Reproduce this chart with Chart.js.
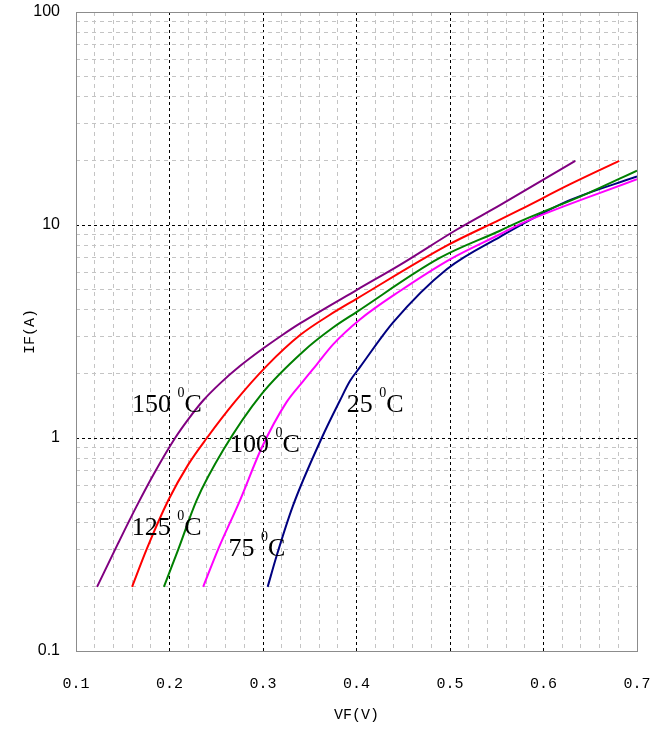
<!DOCTYPE html>
<html>
<head>
<meta charset="utf-8">
<title>IF vs VF</title>
<script src="https://cdn.jsdelivr.net/npm/chart.js@4.4.1/dist/chart.umd.min.js"></script>
<style>
  body { margin: 0; background: #fff; }
  #wrap { width: 651px; height: 729px; position: relative; }
</style>
</head>
<body>
<div id="wrap"><canvas id="chart"></canvas></div>
<script>
// forward voltage (V) and forward current (A)
const vf150 = [0.1225, 0.145, 0.165, 0.185, 0.206, 0.221, 0.236, 0.255, 0.275, 0.300, 0.320, 0.340, 0.400, 0.4465, 0.507, 0.5535, 0.634];
const if150 = [0.2, 0.32, 0.48, 0.70, 1.0, 1.24, 1.5, 1.82, 2.17, 2.63, 3.03, 3.46, 4.95, 6.5, 9.5, 12.4, 20];

const vf125 = [0.160, 0.1755, 0.1987, 0.220, 0.240, 0.270, 0.304, 0.340, 0.370, 0.400, 0.4965, 0.5535, 0.575, 0.628, 0.681];
const if125 = [0.2, 0.3, 0.51, 0.75, 1.0, 1.48, 2.18, 3.05, 3.75, 4.5, 8.0, 10.6, 11.8, 15.5, 20];

const vf100 = [0.194, 0.2094, 0.229, 0.2576, 0.298, 0.343, 0.375, 0.400, 0.489, 0.5535, 0.575, 0.646, 0.700];
const if100 = [0.2, 0.3, 0.51, 0.88, 1.6, 2.55, 3.3, 3.9, 7.0, 9.4, 10.4, 14.0, 18.0];

const vf75 = [0.236, 0.252, 0.2754, 0.2986, 0.325, 0.343, 0.357, 0.375, 0.4037, 0.4465, 0.500, 0.5535, 0.575, 0.700];
const if75 = [0.2, 0.3, 0.51, 0.9, 1.47, 1.85, 2.2, 2.75, 3.6, 4.9, 6.9, 9.05, 10.1, 16.4];

const vf25 = [0.305, 0.3146, 0.332, 0.3628, 0.3823, 0.393, 0.4037, 0.4394, 0.4965, 0.5535, 0.625, 0.700];
const if25 = [0.2, 0.28, 0.48, 1.0, 1.5, 1.85, 2.15, 3.5, 6.2, 8.8, 12.9, 16.9];

const xTickLabels = ['0.1', '0.2', '0.3', '0.4', '0.5', '0.6', '0.7'];
const yTickLabels = ['0.1', '1', '10', '100'];

const series = [
  { vf: vf150, i: if150, color: '#800080' },
  { vf: vf125, i: if125, color: '#ff0000' },
  { vf: vf100, i: if100, color: '#008000' },
  { vf: vf75, i: if75, color: '#ff00ff' },
  { vf: vf25, i: if25, color: '#000080' }
];

// where each temperature note sits (data units, left/baseline of the text)
const tempLabels = [
  { text: '150', vf: 0.160, i: 1.32 },
  { text: '100', vf: 0.2647, i: 0.86 },
  { text: '125', vf: 0.1596, i: 0.352 },
  { text: '75', vf: 0.263, i: 0.279 },
  { text: '25', vf: 0.3895, i: 1.33 }
];

const isDecade = (v) => Math.abs(Math.log10(v) - Math.round(Math.log10(v))) < 1e-6;
const isTenth = (v) => Math.abs(v * 10 - Math.round(v * 10)) < 1e-6;

// no extra room for edge labels, the layout padding handles it
const noPad = (s) => {
  s.paddingTop = 0; s.paddingBottom = 0; s.paddingLeft = 0; s.paddingRight = 0;
};

// grey box around the plot
const frame = {
  id: 'frame',
  beforeDatasetsDraw(chart) {
    const { ctx, chartArea: a } = chart;
    ctx.save();
    ctx.strokeStyle = '#8c8c8c';
    ctx.lineWidth = 1;
    ctx.strokeRect(Math.round(a.left) + 0.5, Math.round(a.top) + 0.5,
      Math.round(a.width), Math.round(a.height));
    ctx.restore();
  }
};

// "150 0C" style notes with the raised 0
const tempText = {
  id: 'tempText',
  afterDatasetsDraw(chart) {
    const { ctx, scales: { x, y } } = chart;
    ctx.save();
    ctx.fillStyle = '#000';
    ctx.textBaseline = 'alphabetic';
    ctx.textAlign = 'left';
    tempLabels.forEach(t => {
      let px = x.getPixelForValue(t.vf);
      const py = y.getPixelForValue(t.i);
      ctx.font = '26px "Liberation Serif"';
      const head = t.text + ' ';
      ctx.fillText(head, px, py);
      px += ctx.measureText(head).width;
      ctx.font = '14px "Liberation Serif"';
      ctx.fillText('0', px, py - 15);
      px += ctx.measureText('0').width;
      ctx.font = '26px "Liberation Serif"';
      ctx.fillText('C', px, py);
    });
    ctx.restore();
  }
};

new Chart(document.getElementById('chart'), {
  type: 'scatter',
  data: {
    datasets: series.map(s => ({
      data: s.vf.map((v, k) => ({ x: v, y: s.i[k] })),
      borderColor: s.color,
      backgroundColor: s.color,
      borderWidth: 2,
      pointRadius: 0,
      showLine: true,
      fill: false,
      cubicInterpolationMode: 'monotone'
    }))
  },
  options: {
    responsive: true,
    maintainAspectRatio: false,
    animation: false,
    layout: { padding: { top: 12, right: 14, left: 0, bottom: 0 } },
    plugins: { legend: { display: false }, tooltip: { enabled: false } },
    scales: {
      x: {
        type: 'linear',
        min: 0.1,
        max: 0.7,
        afterFit: (s) => { s.height = 78; noPad(s); },
        border: {
          display: false,
          dash: (c) => (c.tick && isTenth(c.tick.value)) ? [3, 3] : [4, 4]
        },
        grid: {
          drawTicks: false,
          color: (c) => (c.tick && isTenth(c.tick.value)) ? '#000' : '#c4c4c4',
          lineWidth: 1
        },
        ticks: {
          stepSize: 0.02,
          autoSkip: false,
          maxRotation: 0,
          padding: 24,
          color: '#000',
          font: { family: '"Liberation Mono"', size: 15 },
          callback: (v) => isTenth(v) ? (xTickLabels.find(l => Math.abs(Number(l) - v) < 1e-6) || '') : ''
        },
        title: {
          display: true,
          text: 'VF(V)',
          color: '#000',
          font: { family: '"Liberation Mono"', size: 15 },
          padding: { top: 0, bottom: 5 }
        }
      },
      y: {
        type: 'logarithmic',
        min: 0.1,
        max: 100,
        afterFit: (s) => { s.width = 76; noPad(s); },
        afterBuildTicks: (s) => {
          s.ticks = s.ticks.filter(t => {
            const m = t.value / Math.pow(10, Math.floor(Math.log10(t.value) + 1e-9));
            return Math.abs(m - Math.round(m)) < 1e-6;
          });
        },
        border: {
          display: false,
          dash: (c) => (c.tick && isDecade(c.tick.value)) ? [3, 3] : [4, 4]
        },
        grid: {
          drawTicks: false,
          color: (c) => (c.tick && isDecade(c.tick.value)) ? '#000' : '#c4c4c4',
          lineWidth: 1
        },
        ticks: {
          autoSkip: false,
          padding: 16,
          color: '#000',
          font: { family: '"Liberation Sans"', size: 16 },
          callback: (v) => yTickLabels.find(l => Math.abs(Number(l) - v) < 1e-9) || ''
        },
        title: {
          display: true,
          text: 'IF(A)',
          color: '#000',
          font: { family: '"Liberation Mono"', size: 15 },
          padding: { top: 21, bottom: 0 }
        }
      }
    }
  },
  plugins: [frame, tempText]
});
</script>
</body>
</html>
